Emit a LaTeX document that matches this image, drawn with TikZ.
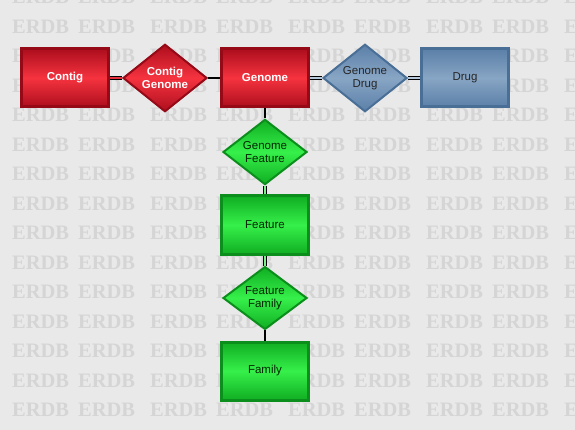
\documentclass[tikz,border=0pt]{standalone}
\usepackage{fontspec}
\setmainfont{Liberation Sans}
\newfontfamily\markfont{Liberation Serif}
\usetikzlibrary{shapes.geometric}
\definecolor{bggray}{HTML}{E9E9E9}
\definecolor{markgray}{HTML}{D5D5D5}
\definecolor{reddark}{HTML}{960A18}
\definecolor{redtop}{HTML}{AE0E1D}
\definecolor{redmid}{HTML}{F5333F}
\definecolor{redline}{HTML}{E8303C}
\definecolor{bluedark}{HTML}{4A6F97}
\definecolor{bluetop}{HTML}{5B80A8}
\definecolor{bluemid}{HTML}{88A5C4}
\definecolor{blueline}{HTML}{B9C9DC}
\definecolor{greendark}{HTML}{0B8E1C}
\definecolor{greentop}{HTML}{10AE22}
\definecolor{greenmid}{HTML}{36F04A}
\definecolor{greenline}{HTML}{7CF08A}

\begin{document}
\begin{tikzpicture}[x=1pt, y=-1pt,
  font=\fontsize{11.5}{13}\selectfont,
  entity/.style={rectangle, minimum width=87, minimum height=58, line width=3, align=center},
  relation/.style={diamond, minimum width=84, minimum height=58, inner sep=0, line width=2, align=center},
  redfill/.style={draw=reddark, top color=redtop, bottom color=redtop, middle color=redmid, text=white, font=\fontsize{11.5}{13}\selectfont\bfseries},
  bluefill/.style={draw=bluedark, top color=bluetop, bottom color=bluetop, middle color=bluemid, text=black!85},
  greenfill/.style={draw=greendark, top color=greentop, bottom color=greentop, middle color=greenmid, text=black!85!green},
  link/.style={draw=black, line width=2},
  dlink/.style={draw=black, line width=1.4, double distance=1.3}]
\fill[bggray] (0,0) rectangle (575,430);
\useasboundingbox (0,0) rectangle (575,430);
\foreach \r in {-1,...,13}
  \foreach \xs in {12,78,150,216,288,354,426,492,564}
    \node[anchor=west, inner sep=0, text=markgray, font=\markfont\fontsize{20.5}{20.5}\selectfont\bfseries] at (\xs, 26.5+29.5*\r) {ERDB};

\node[entity, redfill] (contig) at (65,78) {Contig};
\node[relation, redfill] (contiggenome) at (165,78) {Contig\\Genome};
\node[entity, redfill] (genome) at (265,78) {Genome};
\node[relation, bluefill] (genomedrug) at (365,78) {Genome\\Drug};
\node[entity, bluefill] (drug) at (465,78) {Drug};
\node[relation, greenfill] (genomefeature) at (265,152) {Genome\\Feature};
\node[entity, greenfill] (feature) at (265,225) {Feature};
\node[relation, greenfill] (featurefamily) at (265,298) {Feature\\Family};
\node[entity, greenfill] (family) at (265,371) {Family};

\draw[dlink, double=redline] (contig) -- (contiggenome);
\draw[link] (contiggenome) -- (genome);
\draw[dlink, double=blueline] (genome) -- (genomedrug);
\draw[dlink, double=blueline] (genomedrug) -- (drug);
\draw[link] (genome) -- (genomefeature);
\draw[dlink, double=greenline] (genomefeature) -- (feature);
\draw[dlink, double=greenline] (feature) -- (featurefamily);
\draw[link] (featurefamily) -- (family);
\end{tikzpicture}
\end{document}
